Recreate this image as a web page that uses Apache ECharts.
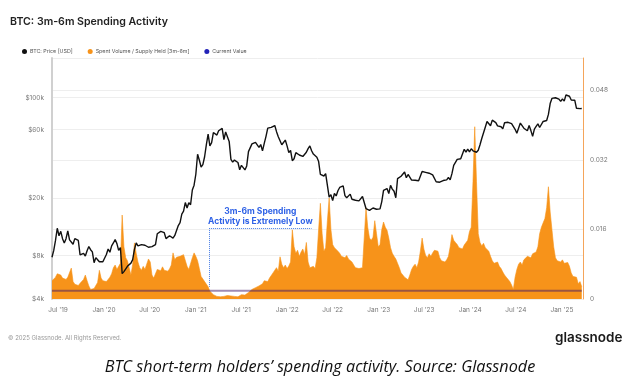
<!DOCTYPE html>
<html><head><meta charset="utf-8">
<script src="https://cdn.jsdelivr.net/npm/echarts@6/dist/echarts.min.js"></script>
<style>html,body{margin:0;padding:0;background:#fff}#c{width:640px;height:390px}</style>
</head><body><div id="c"></div>
<script>
// ---- data (weekly, starting 2019-06-07) ----
const startDate = [2019, 5, 7];
const stepDays = 7;

const priceUSD = [
  // 2019
  7800, 8700, 10200, 12400, 11000, 11800, 10500, 9800, 10500, 11900, 10300, 10400, 9600,
  10500, 10350, 10200, 8100, 8150, 8300, 7950, 8650, 9250, 8800, 8500, 7150, 7750,
  7500, 7250, 7150, 7250,
  // 2020
  7350, 8150, 8900, 8450, 9350, 9800, 10350, 9700, 8700, 9100, 6000, 6200, 6400,
  6750, 6850, 7100, 7500, 8850, 9800, 9350, 9150, 9550, 9650, 9450, 9350, 9150,
  9100, 9250, 9150, 9550, 11350, 11600, 11800, 11650, 11550, 10500, 10400, 11000, 10750,
  10600, 11050, 11350, 12950, 13550, 15550, 16300, 18700, 17150, 18650, 18050, 22850, 24700,
  // 2021
  29400, 40500, 36800, 33000, 34300, 38900, 47300, 55900, 46300, 48800, 57300, 58100, 55000,
  59000, 58100, 61300, 51100, 57800, 57400, 49700, 37300, 35700, 36900, 37300, 35500, 31600,
  33900, 33800, 31500, 33600, 42200, 42800, 47800, 49300, 49000, 50000, 45200, 47300, 42700,
  48200, 53900, 61500, 60700, 62200, 61000, 64100, 58100, 53600, 53600, 47100, 46700, 50800, 46300,
  // 2022
  41600, 43100, 36500, 37700, 41500, 42400, 40000, 39200, 39100, 38800, 41800, 44300,
  46300, 42800, 40600, 39700, 38600, 36000, 29300, 29200, 28600, 29700, 29100, 20400, 21200,
  19300, 21600, 20800, 22600, 23800, 23200, 24400, 20900, 20200, 19800, 21400, 19700, 19300, 19400,
  19500, 19200, 19200, 20600, 21150, 17000, 16700, 16500, 17000, 17150, 16650, 16800, 16600,
  // 2023
  16900, 19000, 22700, 23000, 23400, 21600, 24600, 23200, 22400, 20200, 27400, 27500, 28500,
  27900, 30500, 27800, 29300, 29500, 26800, 26900, 26700, 27200, 26500, 26300, 30700, 30500,
  30300, 30300, 29900, 29300, 29100, 29400, 26100, 26100, 25900, 25900, 26600, 26600, 26900,
  27900, 26900, 29700, 33900, 34700, 37300, 36600, 37700, 38700, 43800, 41900, 43900, 42100,
  // 2024
  44200, 42800, 41600, 41800, 43200, 47100, 52100, 50700, 62400, 68300, 69400, 63800, 69900,
  67800, 67200, 63800, 63800, 62900, 60800, 67000, 68500, 67500, 69300, 66000, 64100, 60300,
  56600, 57900, 66700, 67900, 61400, 60900, 59000, 64100, 59100, 53900, 60500, 63200, 65800,
  62100, 62400, 68400, 66600, 69500, 76600, 91100, 98900, 97400, 99900, 101400, 97800, 94200,
  // 2025
  98100, 94700, 104400, 104800, 102400, 96500, 97500, 96100, 84400, 86700, 84000, 84100
];

const spentRatio = [
  // 2019
  0.0042, 0.0046, 0.0050, 0.0058, 0.0062, 0.0055, 0.0048, 0.0052, 0.0045, 0.0050, 0.0047, 0.0071,
  0.0040, 0.0034, 0.0038, 0.0031, 0.0036, 0.0033, 0.0045, 0.0055, 0.0042, 0.0030,
  0.0022, 0.0018, 0.0024, 0.0020, 0.0038, 0.0066, 0.0048, 0.0042,
  // 2020
  0.0046, 0.0040, 0.0045, 0.0050, 0.0058, 0.0072, 0.0078, 0.0068, 0.0075, 0.0082, 0.0193, 0.0120,
  0.0095, 0.0088, 0.0092, 0.0055, 0.0080, 0.0129, 0.0105, 0.0085, 0.0072, 0.0066, 0.0075, 0.0068,
  0.0070, 0.0092, 0.0085, 0.0055, 0.0048, 0.0052, 0.0068, 0.0072, 0.0065, 0.0074, 0.0066, 0.0070,
  0.0064, 0.0069, 0.0078, 0.0106, 0.0090, 0.0096, 0.0092, 0.0098, 0.0094, 0.0102, 0.0098, 0.0075,
  0.0068, 0.0072, 0.0095, 0.0106,
  // 2021
  0.0098, 0.0088, 0.0070, 0.0052, 0.0048, 0.0040, 0.0038, 0.0028, 0.0018, 0.0014, 0.0010,
  0.0008, 0.0006, 0.0009, 0.0005, 0.0007, 0.0006, 0.0010, 0.0008, 0.0005, 0.0007,
  0.0009, 0.0006, 0.0008, 0.0005, 0.0007, 0.0010, 0.0012, 0.0009, 0.0013, 0.0015, 0.0018,
  0.0022, 0.0020, 0.0026, 0.0024, 0.0030, 0.0028, 0.0035, 0.0042, 0.0046, 0.0040, 0.0048, 0.0052,
  0.0060, 0.0066, 0.0072, 0.0064, 0.0097, 0.0080, 0.0072, 0.0078, 0.0070,
  // 2022
  0.0076, 0.0085, 0.0159, 0.0120, 0.0105, 0.0112, 0.0098, 0.0108, 0.0115, 0.0102, 0.0130,
  0.0085, 0.0072, 0.0068, 0.0075, 0.0070, 0.0095, 0.0160, 0.0220, 0.0150, 0.0110, 0.0118,
  0.0180, 0.0232, 0.0160, 0.0125, 0.0118, 0.0120, 0.0110, 0.0105, 0.0098, 0.0102, 0.0095,
  0.0100, 0.0092, 0.0088, 0.0085, 0.0078, 0.0072, 0.0076, 0.0070, 0.0074, 0.0072, 0.0068,
  0.0210, 0.0165, 0.0140, 0.0135, 0.0142, 0.0180, 0.0150, 0.0120,
  // 2023
  0.0125, 0.0160, 0.0177, 0.0165, 0.0158, 0.0140, 0.0118, 0.0105, 0.0098, 0.0092, 0.0095,
  0.0072, 0.0060, 0.0055, 0.0050, 0.0046, 0.0044, 0.0055, 0.0068, 0.0075, 0.0080, 0.0072, 0.0085,
  0.0110, 0.0140, 0.0115, 0.0100, 0.0095, 0.0104, 0.0098, 0.0106, 0.0112, 0.0108, 0.0110,
  0.0095, 0.0088, 0.0092, 0.0085, 0.0090, 0.0098, 0.0120, 0.0148, 0.0135, 0.0130, 0.0125, 0.0118,
  0.0122, 0.0115, 0.0124, 0.0128, 0.0135, 0.0155,
  // 2024
  0.0165, 0.0270, 0.0396, 0.0270, 0.0150, 0.0130, 0.0122, 0.0128, 0.0118, 0.0120, 0.0110,
  0.0098, 0.0088, 0.0082, 0.0078, 0.0085, 0.0075, 0.0070, 0.0062, 0.0055, 0.0050, 0.0046,
  0.0040, 0.0032, 0.0022, 0.0050, 0.0068, 0.0080, 0.0085, 0.0078, 0.0090, 0.0086,
  0.0098, 0.0102, 0.0095, 0.0104, 0.0100, 0.0108, 0.0120, 0.0150, 0.0165, 0.0175, 0.0185, 0.0210,
  0.0258, 0.0200, 0.0160, 0.0120, 0.0095, 0.0088, 0.0092, 0.0085,
  // 2025
  0.0090, 0.0082, 0.0078, 0.0084, 0.0075, 0.0060, 0.0052, 0.0048, 0.0050, 0.0035, 0.0040, 0.0028
];

const currentValue = 0.0019;
const priceTicks = [4000, 8000, 20000, 60000, 100000];
const ratioTicks = [0, 0.016, 0.032, 0.048];
const dateTicks = ['2019-07-01','2020-01-01','2020-07-01','2021-01-01','2021-07-01','2022-01-01',
  '2022-07-01','2023-01-01','2023-07-01','2024-01-01','2024-07-01','2025-01-01'];
const annotationText = '3m-6m Spending\nActivity is Extremely Low';
const annotationBox = { from: '2021-02-23', to: '2022-04-08', top: 0.0163, bottom: 0.0028 };

// ---- build ----
const DAY = 86400000;
const t0 = new Date(startDate[0], startDate[1], startDate[2]).getTime();
const dateAt = i => t0 + i * stepDays * DAY;
const toTs = s => { const p = s.split('-').map(Number); return new Date(p[0], p[1] - 1, p[2]).getTime(); };
const priceData = priceUSD.map((v, i) => [dateAt(i), v]);
const ratioData = spentRatio.map((v, i) => [dateAt(i), v]);
const xMin = t0;
const xMax = toTs('2025-03-26');
const MONTHS = ['Jan','Feb','Mar','Apr','May','Jun','Jul','Aug','Sep','Oct','Nov','Dec'];

const chart = echarts.init(document.getElementById('c'), null, { renderer: 'canvas' });
const font = 'Inter, "Noto Sans", sans-serif';
chart.setOption({
  animation: false,
  backgroundColor: '#fff',
  textStyle: { fontFamily: font },
  title: [
    { text: 'BTC: 3m-6m Spending Activity', left: 5, top: 11,
      textStyle: { fontSize: 10.6, fontWeight: 600, color: '#222', fontFamily: font } },
    { text: '© 2025 Glassnode. All Rights Reserved.', left: 3, top: 330,
      textStyle: { fontSize: 6, fontWeight: 'normal', color: '#999', fontFamily: font } },
    { text: 'glassnode', left: 550, top: 326,
      textStyle: { fontSize: 13.5, fontWeight: 600, color: '#1a1a1a', fontFamily: font } },
    { text: 'BTC short-term holders\u2019 spending activity. Source: Glassnode', left: 'center', top: 354,
      textStyle: { fontSize: 16.2, fontStyle: 'italic', fontWeight: 'normal', color: '#111', fontFamily: '"Open Sans", sans-serif' } }
  ],
  legend: {
    left: 17, top: 44, itemWidth: 5, itemHeight: 5, itemGap: 15, icon: 'circle',
    textStyle: { fontSize: 5.3, color: '#555', padding: [0, 0, 0, -2] },
    data: ['BTC: Price [USD]', 'Spent Volume / Supply Held [3m-6m]', 'Current Value']
  },
  grid: { left: 52, right: 57, top: 58, bottom: 91 },
  xAxis: {
    type: 'value', min: xMin, max: xMax,
    axisLine: { show: false }, axisTick: { show: false }, splitLine: { show: false },
    axisLabel: {
      customValues: dateTicks.map(toTs), fontSize: 6.5, color: '#777', margin: 8,
      formatter: v => { const d = new Date(v); return MONTHS[d.getMonth()] + " '" + String(d.getFullYear()).slice(2); }
    }
  },
  yAxis: [
    {
      type: 'log', logBase: 10, min: 4000, max: 188700, position: 'left',
      axisLine: { show: true, lineStyle: { color: '#d0d0d0', width: 2 } },
      axisTick: { show: false, customValues: priceTicks },
      splitLine: { show: true, lineStyle: { color: '#eeeeee', width: 1 } },
      axisLabel: { customValues: priceTicks, fontSize: 6.5, color: '#777', margin: 8,
        formatter: v => '$' + Math.round(v / 1000) + 'k' }
    },
    {
      type: 'value', min: 0, max: 0.0554, interval: 0.016, position: 'right',
      axisLine: { show: true, lineStyle: { color: '#f5a55a', width: 1 } },
      axisTick: { show: false },
      splitLine: { show: true, lineStyle: { color: '#eeeeee', width: 1 } },
      axisLabel: { fontSize: 6.5, color: '#777', margin: 7, showMaxLabel: false,
        formatter: v => (v === 0 ? '0' : v.toFixed(3)) }
    }
  ],
  series: [
    {
      name: 'Spent Volume / Supply Held [3m-6m]', type: 'line', yAxisIndex: 1, z: 2,
      data: ratioData, symbol: 'none', color: '#f7931a',
      lineStyle: { width: 0.6, color: '#f7931a' },
      areaStyle: { color: '#f7931a', opacity: 1 }
    },
    {
      name: 'Current Value', type: 'line', yAxisIndex: 1, z: 3,
      data: [[xMin, currentValue], [dateAt(spentRatio.length - 1), currentValue]],
      symbol: 'none', color: '#2323b8',
      lineStyle: { width: 2, color: '#3f1768', opacity: 0.5 },
      markLine: {
        silent: true, symbol: 'none',
        lineStyle: { type: 'dotted', color: '#4a7fe6', width: 1 },
        data: [
          [{ coord: [toTs(annotationBox.from), annotationBox.top],
             label: { show: true, position: 'insideMiddleTop', distance: 2, formatter: annotationText,
               color: '#2f62e6', fontWeight: 'bold', fontSize: 8.5, lineHeight: 10, align: 'center', fontFamily: font } },
           { coord: [toTs(annotationBox.to), annotationBox.top] }],
          [{ coord: [toTs(annotationBox.from), annotationBox.top], label: { show: false } },
           { coord: [toTs(annotationBox.from), annotationBox.bottom] }]
        ]
      }
    },
    {
      name: 'BTC: Price [USD]', type: 'line', yAxisIndex: 0, z: 4,
      data: priceData, symbol: 'none', color: '#111',
      lineStyle: { width: 1.4, color: '#111' }
    }
  ]
});
</script></body></html>
